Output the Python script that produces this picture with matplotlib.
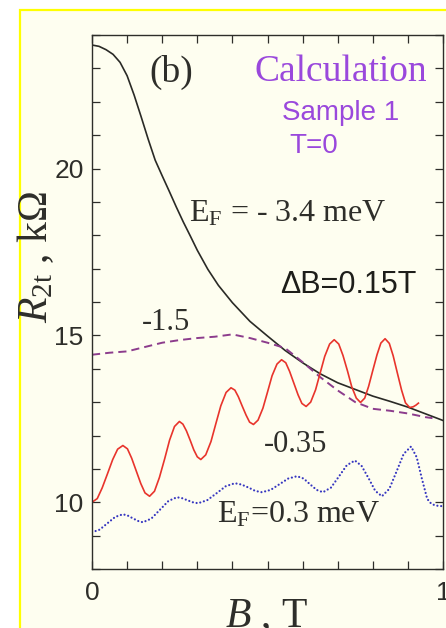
import matplotlib
matplotlib.use("Agg")
import matplotlib.pyplot as plt
from matplotlib.patches import Rectangle
from matplotlib.ticker import MultipleLocator, FixedLocator, FuncFormatter

plt.rcParams['mathtext.fontset'] = 'custom'
plt.rcParams['mathtext.rm'] = 'Liberation Serif'
plt.rcParams['mathtext.it'] = 'Liberation Serif:italic'

# E_F = -3.4 meV (solid black)
b_black = [0.00, 0.02, 0.04, 0.06, 0.08, 0.10, 0.12, 0.14, 0.16, 0.18, 0.20,
           0.22, 0.24, 0.26, 0.28, 0.30, 0.33, 0.36, 0.40, 0.45, 0.50, 0.55,
           0.60, 0.65, 0.70, 0.75, 0.80, 0.85, 0.90, 0.95, 1.00]
r_black = [23.70, 23.66, 23.56, 23.42, 23.18, 22.78, 22.20, 21.55, 20.88, 20.25, 19.78,
           19.32, 18.85, 18.40, 17.98, 17.55, 16.98, 16.50, 15.98, 15.42, 14.98, 14.55,
           14.18, 13.85, 13.58, 13.38, 13.18, 13.02, 12.85, 12.65, 12.45]

# E_F = -1.5 meV (dashed purple)
b_purple = [0.00, 0.05, 0.10, 0.15, 0.20, 0.25, 0.30, 0.35, 0.40, 0.45, 0.50,
            0.55, 0.60, 0.65, 0.70, 0.75, 0.80, 0.85, 0.90, 0.95, 0.97]
r_purple = [14.42, 14.48, 14.52, 14.65, 14.78, 14.86, 14.92, 14.96, 15.03, 14.92, 14.78,
            14.62, 14.20, 13.75, 13.35, 13.00, 12.80, 12.74, 12.66, 12.55, 12.52]

# E_F = -0.35 meV (solid red)
b_red = [0.000, 0.015, 0.029, 0.044, 0.059, 0.073, 0.088,
         0.101, 0.113, 0.126, 0.139, 0.151, 0.164,
         0.178, 0.192, 0.207, 0.221, 0.235, 0.249,
         0.259, 0.269, 0.280, 0.290, 0.300, 0.310,
         0.324, 0.339, 0.353, 0.367, 0.382, 0.396,
         0.407, 0.417, 0.428, 0.439, 0.449, 0.460,
         0.473, 0.487, 0.500, 0.513, 0.527, 0.540,
         0.552, 0.563, 0.575, 0.587, 0.598, 0.610,
         0.623, 0.637, 0.650, 0.663, 0.677, 0.690,
         0.703, 0.715, 0.728, 0.740, 0.753, 0.765,
         0.777, 0.788, 0.800, 0.812, 0.823, 0.835,
         0.847, 0.858, 0.870, 0.882, 0.893, 0.905,
         0.915, 0.923, 0.930]
r_red = [10.00, 10.11, 10.43, 10.85, 11.28, 11.59, 11.70,
         11.60, 11.32, 10.94, 10.56, 10.28, 10.18,
         10.33, 10.74, 11.30, 11.86, 12.27, 12.42,
         12.34, 12.14, 11.85, 11.57, 11.36, 11.28,
         11.42, 11.82, 12.36, 12.89, 13.29, 13.43,
         13.36, 13.16, 12.88, 12.61, 12.40, 12.33,
         12.46, 12.82, 13.30, 13.79, 14.14, 14.27,
         14.18, 13.92, 13.57, 13.22, 12.96, 12.87,
         13.00, 13.37, 13.87, 14.37, 14.74, 14.87,
         14.74, 14.40, 13.93, 13.46, 13.12, 12.99,
         13.12, 13.47, 13.95, 14.42, 14.77, 14.90,
         14.76, 14.39, 13.87, 13.36, 12.98, 12.84,
         12.86, 12.91, 12.97]

# E_F = 0.3 meV (dotted blue)
b_blue = [0.000, 0.022, 0.044, 0.066, 0.088, 0.102, 0.116, 0.131, 0.145, 0.169, 0.194,
          0.218, 0.242, 0.257, 0.272, 0.287, 0.302, 0.328, 0.355, 0.381, 0.407, 0.426,
          0.446, 0.465, 0.484, 0.509, 0.534, 0.559, 0.584, 0.603, 0.621, 0.640, 0.658,
          0.681, 0.704, 0.726, 0.749, 0.768, 0.788, 0.807, 0.826, 0.847, 0.868, 0.888,
          0.909, 0.925, 0.940, 0.955, 0.967, 0.980, 1.000]
r_blue = [9.10, 9.18, 9.37, 9.56, 9.64, 9.60, 9.52, 9.44, 9.40, 9.51, 9.78,
          10.04, 10.15, 10.12, 10.06, 10.00, 9.97, 10.06, 10.27, 10.48, 10.57, 10.53,
          10.44, 10.34, 10.30, 10.37, 10.54, 10.71, 10.78, 10.71, 10.54, 10.37, 10.30,
          10.44, 10.78, 11.11, 11.25, 11.09, 10.72, 10.34, 10.18, 10.40, 10.93, 11.45,
          11.67, 11.35, 10.70, 10.10, 9.95, 9.90, 9.88]

cream = '#fefef0'
ink = '#2e2e2a'
violet = '#9a48dc'

fig = plt.figure(figsize=(4.46, 6.28), dpi=100, facecolor='white')

# yellow frame around the panel, kept behind the axes
frame = Rectangle((20 / 446, -0.2), 1.0, 1.2 - 10 / 628,
                  transform=fig.transFigure, facecolor=cream,
                  edgecolor='#ffff00', linewidth=1.6, zorder=-10)
fig.patches.append(frame)

ax = fig.add_axes([92 / 446, 1 - 569 / 628, 351 / 446, 534 / 628])
ax.set_facecolor(cream)
ax.set_zorder(1)

ax.plot(b_black, r_black, color='#2a2a26', lw=1.2)
ax.plot(b_purple, r_purple, color='#8c3c8c', lw=1.4, dashes=(4.2, 2.6))
ax.plot(b_red, r_red, color='#e8342c', lw=1.2)
ax.plot(b_blue, r_blue, color='#3636c0', lw=1.6, dashes=(0.01, 1.7),
        dash_capstyle='round')

ax.set_xlim(0, 1)
ax.set_ylim(8, 24)

ax.xaxis.set_major_locator(MultipleLocator(0.1))
ax.xaxis.set_major_formatter(FuncFormatter(
    lambda v, p: '%d' % round(v) if abs(v) < 1e-6 or abs(v - 1) < 1e-6 else ''))
ax.yaxis.set_major_locator(FixedLocator([10, 15, 20]))
ax.yaxis.set_minor_locator(MultipleLocator(1))

ax.tick_params(which='both', direction='in', top=True, right=True,
               length=5.5, width=0.9, color=ink)
ax.tick_params(axis='y', which='major', labelsize=19, pad=6, labelcolor=ink)
ax.tick_params(axis='x', which='major', labelsize=19, pad=9, labelcolor=ink)
for lab in ax.get_xticklabels() + ax.get_yticklabels():
    lab.set_fontfamily('Liberation Sans')
for sp in ax.spines.values():
    sp.set_color(ink)
    sp.set_linewidth(1.0)

serif = 'Liberation Serif'
sans = 'Liberation Sans'

ax.text(0.225, 22.87, '(b)', fontsize=27, family=serif, color=ink,
        ha='center', va='center')
ax.text(0.71, 22.63, 'Calculation', fontsize=27, family=serif, color=violet,
        ha='center', va='baseline')
ax.text(0.709, 21.46, 'Sample 1', fontsize=20, family=sans, color=violet,
        ha='center', va='baseline')
ax.text(0.632, 20.45, 'T=0', fontsize=20, family=sans, color=violet,
        ha='center', va='baseline')

ax.text(0.276, 18.42, 'E$_{\\rm F}$ = - 3.4 meV', fontsize=23, family=serif,
        color=ink, ha='left', va='baseline')
ax.text(0.731, 16.27, 'ΔB=0.15T', fontsize=22, family=sans, color='#1e1e1a',
        ha='center', va='baseline')
ax.text(0.212, 15.16, '-1.5', fontsize=22, family=serif, color=ink,
        ha='center', va='baseline')
ax.text(0.58, 11.52, '-0.35', fontsize=22, family=serif, color=ink,
        ha='center', va='baseline')
ax.text(0.356, 9.40, 'E$_{\\rm F}$=0.3 meV', fontsize=23, family=serif,
        color=ink, ha='left', va='baseline')

fig.text(36 / 446, 1 - 257 / 628, '$R_{\\rm 2t}$ , kΩ', fontsize=30, family=serif,
         color=ink, rotation=90, ha='center', va='center')
fig.text(267 / 446, 1 / 628, '$B$ , T', fontsize=30, family=serif,
         color=ink, ha='center', va='baseline')

fig.savefig('out.png', dpi=100, facecolor='white')
